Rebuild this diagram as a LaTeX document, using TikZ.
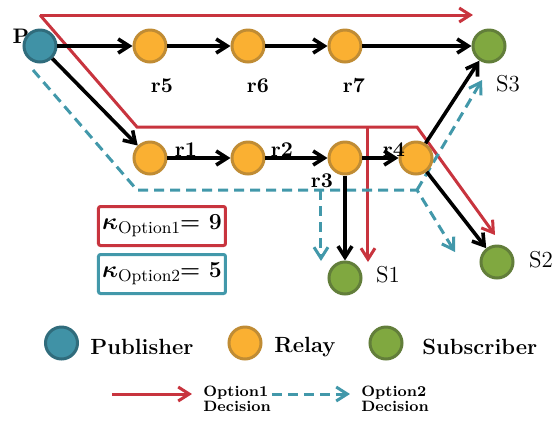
\documentclass[tikz,border=0pt]{standalone}
\usepackage{amsmath}
\usetikzlibrary{arrows.meta, positioning}
\definecolor{pubblue}{RGB}{64, 146, 166}
\definecolor{pubedge}{RGB}{48, 108, 124}
\definecolor{relayorange}{RGB}{250, 176, 50}
\definecolor{relayedge}{RGB}{192, 140, 52}
\definecolor{subgreen}{RGB}{128, 168, 64}
\definecolor{subedge}{RGB}{98, 126, 58}
\definecolor{optred}{RGB}{200, 52, 62}
\definecolor{optteal}{RGB}{66, 152, 170}

\newcommand{\kval}[2]{{\fontsize{13}{13}\selectfont\boldmath$\kappa$}\raisebox{-2pt}{\fontsize{8.5}{10}\selectfont\mdseries #1}{\fontsize{11.5}{13}\selectfont= #2}}

\tikzset{
  pubnode/.style={circle, draw=pubedge, fill=pubblue, line width=1.5pt, minimum size=16pt, inner sep=0pt},
  relaynode/.style={circle, draw=relayedge, fill=relayorange, line width=1.5pt, minimum size=16pt, inner sep=0pt},
  subnode/.style={circle, draw=subedge, fill=subgreen, line width=1.5pt, minimum size=16pt, inner sep=0pt},
  lbl/.style={font=\fontsize{10.5}{12}\selectfont\bfseries, inner sep=0pt},
  sublbl/.style={font=\fontsize{11.5}{13}\selectfont, inner sep=0pt},
  tip/.style={-{Straight Barb[length=5.5pt, width=7pt]}},
  link/.style={tip, line width=1.8pt, black},
  opt1/.style={tip, line width=1.5pt, optred},
  opt2/.style={tip, line width=1.5pt, optteal, dash pattern=on 5pt off 3pt},
  kbox/.style={draw, rounded corners=1pt, line width=1.5pt, minimum width=63.5pt, minimum height=19.5pt, inner sep=0pt, font=\bfseries},
  legtext/.style={font=\fontsize{11}{13}\selectfont\bfseries, inner sep=0pt, anchor=west},
  legsmall/.style={font=\fontsize{7.5}{7.5}\selectfont\bfseries, inner sep=0pt, anchor=west, align=left}
}

\begin{document}
\begin{tikzpicture}[x=0.5pt, y=-0.5pt, on grid]
    \useasboundingbox (0,0) rectangle (559,420);

    % decision paths
    \coordinate (o1s) at (40,15);
    \coordinate (o1e) at (473,15);
    \coordinate (o1a) at (137,127);
    \coordinate (o1b) at (417,127);
    \coordinate (o1c) at (495,235);
    \coordinate (o1d) at (368,127);
    \coordinate (o1f) at (368,262);
    \coordinate (o2s) at (33,70);
    \coordinate (o2a) at (137,190);
    \coordinate (o2b) at (417,190);
    \coordinate (o2c) at (455,252);
    \coordinate (o2d) at (482,80);
    \coordinate (o2e) at (321,190);
    \coordinate (o2f) at (321,261);

    \draw[opt1] (o1s) -- (o1e);
    \draw[opt1] (o1s) -- (o1a) -- (o1b) -- (o1c);
    \draw[opt1] (o1d) -- (o1f);
    \draw[opt2] (o2s) -- (o2a) -- (o2b) -- (o2c);
    \draw[opt2] (o2b) -- (o2d);
    \draw[opt2] (o2e) -- (o2f);

    \node[lbl] (plbl) at (21,36) {P};

    % network
    \node[pubnode] (P) at (40,46) {};
    \node[relaynode, right=55pt of P] (r5) {};
    \node[relaynode, right=49pt of r5] (r6) {};
    \node[relaynode, right=48.5pt of r6] (r7) {};
    \node[subnode, right=72pt of r7] (S3) {};
    \node[relaynode, below=56pt of r5] (r1) {};
    \node[relaynode, right=49pt of r1] (r2) {};
    \node[relaynode, right=48.5pt of r2] (r3) {};
    \node[relaynode, right=35.5pt of r3] (r4) {};
    \node[subnode, below=60pt of r3] (S1) {};
    \node[subnode, below right=52pt and 40.5pt of r4] (S2) {};

    \node[lbl, below right=20pt and 6pt of r5] (r5l) {r5};
    \node[lbl, below right=20pt and 5pt of r6] (r6l) {r6};
    \node[lbl, below right=20pt and 4.5pt of r7] (r7l) {r7};
    \node[lbl, above right=4pt and 18pt of r1] (r1l) {r1};
    \node[lbl, above right=4pt and 17pt of r2] (r2l) {r2};
    \node[lbl, below left=11.5pt and 11.5pt of r3] (r3l) {r3};
    \node[lbl, above left=4.25pt and 11pt of r4] (r4l) {r4};
    \node[sublbl, below right=19pt and 9.5pt of S3] (S3l) {S3};
    \node[sublbl, above right=1.5pt and 21.5pt of S1] (S1l) {S1};
    \node[sublbl, above right=1pt and 22pt of S2] (S2l) {S2};

    \draw[link] (P) -- (r5);
    \draw[link] (r5) -- (r6);
    \draw[link] (r6) -- (r7);
    \draw[link] (r7) -- (S3);
    \draw[link] (P) -- (r1);
    \draw[link] (r1) -- (r2);
    \draw[link] (r2) -- (r3);
    \draw[link] (r3) -- (r4);
    \draw[link] (r4) -- (S3);
    \draw[link] (r4) -- (S2);
    \draw[link] (r3) -- (S1);

    % kappa values
    \node[kbox, draw=optred] (k1) at (162,226) {\kval{Option1}{9}};
    \node[kbox, draw=optteal] (k2) at (162,274) {\kval{Option2}{5}};

    % legend
    \node[pubnode] (lgpub) at (61.5,343) {};
    \node[legtext] (lgpubt) at (90,347) {Publisher};
    \node[relaynode] (lgrel) at (245,343) {};
    \node[legtext] (lgrelt) at (274,347) {Relay};
    \node[subnode] (lgsub) at (386,343) {};
    \node[legtext] (lgsubt) at (422,347) {Subscriber};

    \coordinate (lg1a) at (112,394);
    \coordinate (lg1b) at (192,394);
    \coordinate (lg2a) at (272,394);
    \coordinate (lg2b) at (350,394);
    \draw[opt1] (lg1a) -- (lg1b);
    \node[legsmall] (lg1t) at (203,399) {Option1\\Decision};
    \draw[opt2] (lg2a) -- (lg2b);
    \node[legsmall] (lg2t) at (361,399) {Option2\\Decision};
\end{tikzpicture}
\end{document}
